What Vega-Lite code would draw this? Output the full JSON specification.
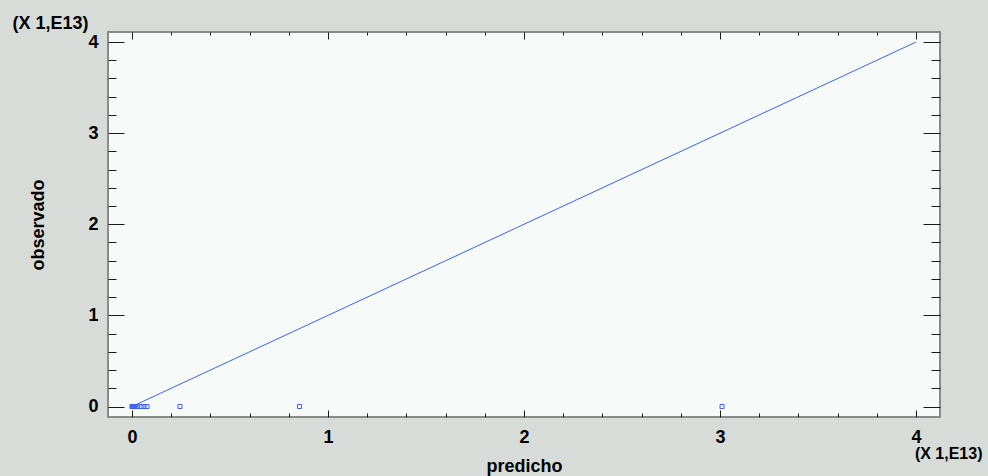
{
  "$schema": "https://vega.github.io/schema/vega-lite/v6.json",
  "width": 832,
  "height": 385,
  "autosize": {"type": "none"},
  "padding": {"left": 108, "top": 32, "right": 48, "bottom": 59},
  "background": "#d8dcd9",
  "config": {
    "view": {"fill": "#f6faf8", "stroke": "#8a8a8a", "strokeWidth": 2},
    "axis": {
      "grid": false,
      "domain": false,
      "tickColor": "#1a1a1a",
      "tickWidth": 1,
      "labelFont": "Liberation Sans",
      "labelFontSize": 18,
      "labelFontWeight": "bold",
      "labelColor": "#000000",
      "titleFont": "Liberation Sans",
      "titleFontSize": 18,
      "titleFontWeight": "bold",
      "titleColor": "#000000"
    }
  },
  "datasets": {
    "fit": [{"p": 0, "o": 0}, {"p": 4, "o": 4}],
    "obs": [
      {"p": 0.0, "o": 0}, {"p": 0.004, "o": 0}, {"p": 0.008, "o": 0}, {"p": 0.012, "o": 0},
      {"p": 0.016, "o": 0}, {"p": 0.02, "o": 0}, {"p": 0.03, "o": 0}, {"p": 0.047, "o": 0},
      {"p": 0.062, "o": 0}, {"p": 0.077, "o": 0}, {"p": 0.245, "o": 0}, {"p": 0.855, "o": 0},
      {"p": 3.01, "o": 0}
    ]
  },
  "resolve": {"axis": {"x": "independent", "y": "independent"}},
  "layer": [
    {
      "data": {"name": "fit"},
      "mark": {"type": "line", "color": "#3d62f2", "strokeWidth": 1},
      "encoding": {
        "x": {"field": "p", "type": "quantitative",
          "scale": {"domain": [-0.122, 4.122], "nice": false, "zero": false},
          "axis": {"orient": "bottom", "labels": false, "title": null,
            "values": [0,0.2,0.4,0.6,0.8,1,1.2,1.4,1.6,1.8,2,2.2,2.4,2.6,2.8,3,3.2,3.4,3.6,3.8,4],
            "tickSize": {"condition": {"test": "abs(datum.value - round(datum.value)) < 0.001", "value": -7}, "value": -4}}},
        "y": {"field": "o", "type": "quantitative",
          "scale": {"domain": [-0.115, 4.11], "nice": false, "zero": false},
          "axis": {"orient": "left", "labels": false, "title": null,
            "values": [0,0.2,0.4,0.6,0.8,1,1.2,1.4,1.6,1.8,2,2.2,2.4,2.6,2.8,3,3.2,3.4,3.6,3.8,4],
            "tickSize": {"condition": {"test": "abs(datum.value - round(datum.value)) < 0.001", "value": -16}, "value": -8}}}
      }
    },
    {
      "data": {"name": "obs"},
      "mark": {"type": "point", "shape": "square", "filled": false, "size": 16, "color": "#3d62f2", "strokeWidth": 1, "opacity": 1},
      "encoding": {
        "x": {"field": "p", "type": "quantitative",
          "scale": {"domain": [-0.122, 4.122], "nice": false, "zero": false},
          "axis": {"orient": "top", "labels": false, "title": null,
            "values": [0,0.2,0.4,0.6,0.8,1,1.2,1.4,1.6,1.8,2,2.2,2.4,2.6,2.8,3,3.2,3.4,3.6,3.8,4],
            "tickSize": {"condition": {"test": "abs(datum.value - round(datum.value)) < 0.001", "value": -7}, "value": -3}}},
        "y": {"field": "o", "type": "quantitative",
          "scale": {"domain": [-0.115, 4.11], "nice": false, "zero": false},
          "axis": {"orient": "right", "labels": false, "title": null,
            "values": [0,0.2,0.4,0.6,0.8,1,1.2,1.4,1.6,1.8,2,2.2,2.4,2.6,2.8,3,3.2,3.4,3.6,3.8,4],
            "tickSize": {"condition": {"test": "abs(datum.value - round(datum.value)) < 0.001", "value": -17}, "value": -9}}}
      }
    },
    {
      "data": {"name": "obs"},
      "mark": {"type": "point", "opacity": 0},
      "encoding": {
        "x": {"field": "p", "type": "quantitative",
          "scale": {"domain": [-0.122, 4.122], "nice": false, "zero": false},
          "axis": {"orient": "bottom", "ticks": false, "values": [0, 1, 2, 3, 4], "format": "d",
            "labelPadding": 11, "title": "predicho", "titlePadding": 11}},
        "y": {"field": "o", "type": "quantitative",
          "scale": {"domain": [-0.115, 4.11], "nice": false, "zero": false},
          "axis": {"orient": "left", "ticks": false, "values": [0, 1, 2, 3, 4], "format": "d",
            "labelPadding": 10, "title": "observado", "titlePadding": 40}}
      }
    },
    {
      "data": {"name": "obs"},
      "mark": {"type": "point", "opacity": 0},
      "encoding": {
        "x": {"field": "p", "type": "quantitative",
          "scale": {"domain": [-0.122, 4.122], "nice": false, "zero": false},
          "axis": {"orient": "bottom", "ticks": false, "labels": false, "title": "(X 1,E13)",
            "titleFontSize": 16, "titleX": 874, "titleY": 41, "titleAlign": "right", "titleBaseline": "alphabetic", "titleAngle": 0}},
        "y": {"field": "o", "type": "quantitative",
          "scale": {"domain": [-0.115, 4.11], "nice": false, "zero": false},
          "axis": {"orient": "left", "ticks": false, "labels": false, "title": "(X 1,E13)",
            "titleFontSize": 18, "titleX": -96, "titleY": -4, "titleAlign": "left", "titleBaseline": "alphabetic", "titleAngle": 0}}
      }
    }
  ]
}
